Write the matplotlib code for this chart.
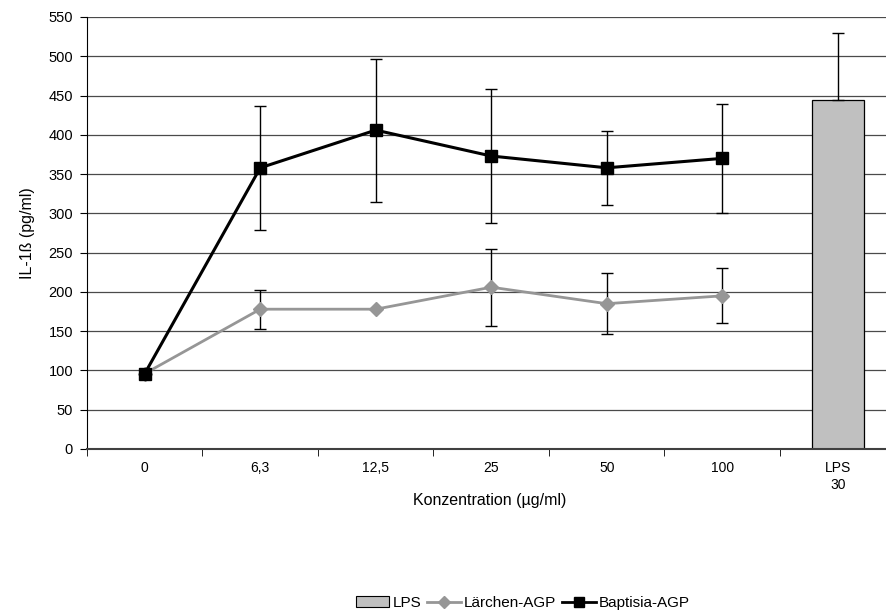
import matplotlib
matplotlib.use("Agg")
import matplotlib.pyplot as plt
import numpy as np
from matplotlib.patches import Patch
from matplotlib.lines import Line2D

plt.rcParams['font.family'] = ['Liberation Sans', 'DejaVu Sans']

categories = ["0", "6,3", "12,5", "25", "50", "100", "LPS\n30"]
baptisia = [96, 358, 406, 373, 358, 370]
baptisia_err = [0, 79, 91, 85, 47, 69]
laerchen = [96, 178, 178, 206, 185, 195]
laerchen_err = [0, 25, 0, 49, 38.5, 35]
lps_value = [444]
lps_err = [85]

W, H = 887, 613
fig = plt.figure(figsize=(W / 100, H / 100), dpi=100)
ax = fig.add_axes([87 / W, (613 - 449) / H, (895.5 - 87) / W, (449 - 17) / H])

x = np.arange(len(categories))
xl = x[:6]

ax.set_ylim(0, 550)
ax.set_xlim(-0.5, 6.5)
ax.set_yticks(np.arange(0, 551, 50))
for yv in np.arange(50, 551, 50):
    ax.axhline(yv, color='#4a4a4a', lw=0.9, zorder=0)

# LPS bar
ax.bar([x[6]], lps_value, width=0.45, color='#c0c0c0', edgecolor='black', lw=0.9, zorder=2)
ax.errorbar([x[6]], lps_value, yerr=[[0], lps_err], fmt='none', ecolor='black',
            elinewidth=1, capsize=4, capthick=1, zorder=3)

# Lärchen
ax.errorbar(xl, laerchen, yerr=laerchen_err, fmt='none', ecolor='black',
            elinewidth=1, capsize=4, capthick=1, zorder=3)
ax.plot(xl, laerchen, color='#969696', lw=2, marker='D', ms=7, mfc='#969696',
        mec='#969696', zorder=4)

# Baptisia
ax.errorbar(xl, baptisia, yerr=baptisia_err, fmt='none', ecolor='black',
            elinewidth=1, capsize=4, capthick=1, zorder=3)
ax.plot(xl, baptisia, color='black', lw=2.2, marker='s', ms=9, mfc='black',
        mec='black', zorder=5)

ax.set_xticks(x)
ax.set_xticklabels(categories, fontsize=10)
ax.set_xticks(np.arange(-0.5, 6.6, 1), minor=True)
ax.tick_params(axis='x', which='major', length=0, pad=9)
ax.tick_params(axis='x', which='minor', length=5, direction='out', color='black')
ax.tick_params(axis='y', length=5, direction='out', labelsize=10.5, pad=5)

for s in ['top', 'right']:
    ax.spines[s].set_visible(False)
ax.spines['left'].set_color('black')
ax.spines['bottom'].set_color('#404040')
ax.spines['bottom'].set_linewidth(1.5)

ax.set_ylabel("IL-1ß (pg/ml)", fontsize=11.5, labelpad=10)
fig.text(490 / W, 1 - 500 / H, "Konzentration (µg/ml)", ha='center', va='center', fontsize=11.5)

handles = [
    Patch(facecolor='#c0c0c0', edgecolor='black', lw=0.8, label='LPS'),
    Line2D([0], [0], color='#969696', lw=2, marker='D', ms=6, mfc='#969696', mec='#969696', label='Lärchen-AGP'),
    Line2D([0], [0], color='black', lw=2, marker='s', ms=7, mfc='black', label='Baptisia-AGP'),
]
fig.legend(handles=handles, loc='center', bbox_to_anchor=(523 / W, 1 - 603 / H), ncol=3,
           frameon=False, fontsize=11, handlelength=2.2, handletextpad=0.2, columnspacing=0.4)

fig.savefig("out.png", dpi=100)
